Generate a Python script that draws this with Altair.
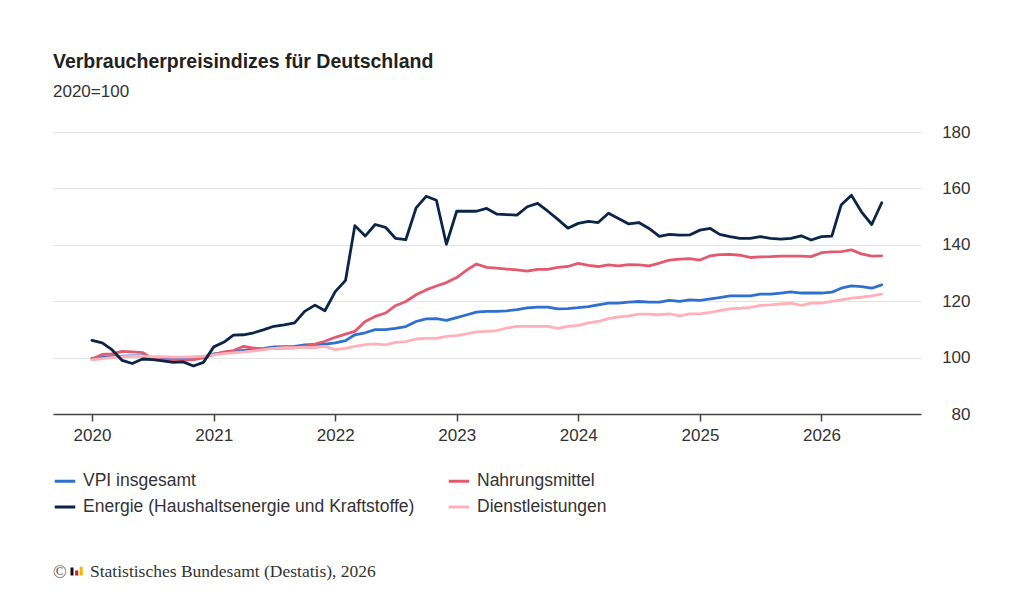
import altair as alt
import pandas as pd

# ---- data (monthly, Jan 2020 - Jul 2026, 2020=100) ----
months = [d.strftime("%Y-%m-%d") for d in pd.date_range("2020-01-01", periods=79, freq="MS")]

series_names = [
    "VPI insgesamt",
    "Nahrungsmittel",
    "Energie (Haushaltsenergie und Kraftstoffe)",
    "Dienstleistungen",
]
series_colors = ["#2f6fcf", "#e35a6f", "#0b2447", "#ffb1b9"]

vpi = [99.7, 100.1, 100.3, 100.5, 100.6, 100.6, 99.9, 99.8, 99.7, 99.8, 99.7, 100.1,
       101.3, 101.8, 102.2, 102.6, 103.0, 103.3, 103.8, 103.9, 104.0, 104.5, 104.7, 104.8,
       105.2, 106.0, 108.1, 108.8, 109.9, 109.9, 110.4, 111.0, 112.8, 113.7, 113.8, 113.2,
       114.2, 115.2, 116.1, 116.4, 116.4, 116.6, 117.0, 117.6, 117.9, 117.9, 117.3, 117.4,
       117.7, 118.1, 118.7, 119.3, 119.3, 119.7, 119.9, 119.7, 119.7, 120.3, 119.9, 120.5,
       120.3, 120.8, 121.3, 121.9, 121.9, 121.9, 122.5, 122.5, 122.9, 123.3, 122.9, 122.9,
       122.9, 123.2, 124.6, 125.4, 125.2, 124.6, 125.8]

nahrung = [99.5, 101.1, 101.3, 102.2, 102.0, 101.8, 99.5, 99.2, 99.1, 99.0, 99.3, 99.9,
           101.1, 102.0, 102.5, 104.0, 103.4, 103.1, 103.3, 103.4, 103.5, 104.0, 104.8, 105.8,
           107.2, 108.3, 109.3, 112.8, 114.6, 115.8, 118.4, 119.9, 122.3, 124.0, 125.4, 126.6,
           128.4, 131.1, 133.2, 132.0, 131.7, 131.4, 131.1, 130.7, 131.3, 131.3, 132.0, 132.3,
           133.4, 132.7, 132.3, 132.9, 132.5, 133.0, 132.9, 132.5, 133.5, 134.6, 134.9, 135.1,
           134.6, 136.1, 136.5, 136.6, 136.3, 135.5, 135.7, 135.8, 136.0, 136.0, 136.0, 135.8,
           137.2, 137.5, 137.6, 138.2, 136.8, 136.0, 136.1]

energie = [106.1, 105.2, 102.8, 99.0, 97.9, 99.5, 99.3, 98.8, 98.3, 98.5, 97.0, 98.3,
           103.8, 105.5, 108.0, 108.1, 108.8, 109.9, 111.1, 111.6, 112.3, 116.4, 118.6, 116.6,
           123.4, 127.4, 146.8, 143.1, 147.2, 146.2, 142.3, 141.8, 153.1, 157.2, 155.8, 140.2,
           151.9, 151.9, 151.9, 152.9, 150.9, 150.7, 150.5, 153.5, 154.7, 152.0, 149.0, 145.9,
           147.6, 148.3, 147.9, 151.2, 149.3, 147.4, 147.9, 145.8, 143.0, 143.7, 143.4, 143.5,
           145.2, 145.8, 143.7, 142.9, 142.3, 142.3, 142.9, 142.3, 142.0, 142.3, 143.2, 141.7,
           142.9, 143.1, 154.1, 157.6, 151.7, 147.2, 154.9]

dienst = [99.2, 99.6, 100.0, 100.3, 100.4, 100.4, 100.3, 100.3, 100.2, 100.2, 100.3, 100.5,
          101.0, 101.4, 101.7, 102.0, 102.4, 102.8, 103.3, 103.5, 103.5, 103.6, 103.5, 104.0,
          102.8, 103.3, 104.0, 104.6, 104.9, 104.5, 105.4, 105.7, 106.6, 106.8, 106.8, 107.5,
          107.8, 108.4, 109.1, 109.3, 109.6, 110.5, 111.1, 111.1, 111.1, 111.1, 110.4, 111.1,
          111.4, 112.3, 112.8, 113.8, 114.4, 114.8, 115.4, 115.4, 115.2, 115.5, 114.8, 115.5,
          115.5, 116.0, 116.7, 117.3, 117.5, 117.8, 118.5, 118.7, 119.0, 119.3, 118.5, 119.3,
          119.3, 119.9, 120.5, 121.1, 121.4, 121.9, 122.5]

years = [2020, 2021, 2022, 2023, 2024, 2025, 2026]
y_ticks = [80, 100, 120, 140, 160, 180]

title_text = "Verbraucherpreisindizes für Deutschland"
subtitle_text = "2020=100"
footer_text = "Statistisches Bundesamt (Destatis), 2026"
copyright_text = "©"
logo_colors = ["#111111", "#dd1111", "#f2b400"]

# ---- build long table (draw order: VPI, Nahrung, Dienst, Energie on top) ----
rows = []
for name, vals, order in [(series_names[0], vpi, 0), (series_names[1], nahrung, 1),
                          (series_names[3], dienst, 2), (series_names[2], energie, 3)]:
    for m, v in zip(months, vals):
        rows.append({"Monat": m, "Wert": v, "Reihe": name, "z": order})
df = pd.DataFrame(rows)

FONT = "Liberation Sans"
W, H = 868, 282

x_scale = alt.Scale(
    type="utc",
    domain=[alt.DateTime(year=2019, month=9, date=6, utc=True),
            alt.DateTime(year=2026, month=10, date=27, utc=True)],
)

lines = alt.Chart(df).mark_line(strokeWidth=2.8, strokeJoin="round", strokeCap="round").encode(
    x=alt.X("Monat:T", scale=x_scale, title=None,
            axis=alt.Axis(values=[alt.DateTime(year=y, month=1, date=1, utc=True) for y in years],
                          format="%Y", formatType="utc", grid=False,
                          domain=True, domainColor="#444444", domainWidth=1.5,
                          ticks=True, tickColor="#444444", tickWidth=1.5, tickSize=7,
                          labelFont=FONT, labelFontSize=17, labelColor="#333333",
                          labelPadding=6)),
    y=alt.Y("Wert:Q", scale=alt.Scale(domain=[80, 180], nice=False, zero=False), title=None,
            axis=alt.Axis(orient="right", values=y_ticks, grid=True, gridColor="#e3e3e3",
                          gridWidth=1, domain=False, ticks=False, labelAlign="right",
                          labelBaseline="middle",
                          labelPadding=49, labelFont=FONT, labelFontSize=17,
                          labelColor="#333333")),
    color=alt.Color("Reihe:N",
                    scale=alt.Scale(domain=series_names, range=series_colors),
                    legend=alt.Legend(orient="none", legendX=0, legendY=337, columns=2,
                                      direction="horizontal",
                                      title=None, symbolType="stroke", symbolSize=420,
                                      symbolStrokeWidth=3, labelFont=FONT, labelFontSize=17.5,
                                      labelColor="#333333", labelLimit=500, labelOffset=6,
                                      rowPadding=5, columnPadding=27)),
    detail="Reihe:N",
    order="z:Q",
)

footer_df = pd.DataFrame({"t": [footer_text]})
footer = alt.Chart(footer_df).mark_text(
    align="left", baseline="alphabetic", font="Liberation Serif", fontSize=17.5, color="#333333"
).encode(x=alt.value(37), y=alt.value(445), text="t:N")

copy_df = pd.DataFrame({"t": [copyright_text]})
copy_mark = alt.Chart(copy_df).mark_text(
    align="left", baseline="alphabetic", font="Liberation Serif", fontSize=18, color="#555555"
).encode(x=alt.value(0), y=alt.value(446), text="t:N")

logo = alt.layer(*[
    alt.Chart(pd.DataFrame({"c": [c]})).mark_rect(color=c).encode(
        x=alt.value(x0), x2=alt.value(x0 + 3), y=alt.value(y0), y2=alt.value(443.5))
    for c, x0, y0 in zip(logo_colors, [17.5, 22.2, 26.7], [435.5, 438.5, 434.8])
])

chart = alt.layer(lines, footer, copy_mark, logo).properties(
    width=W, height=H,
    background="white",
    autosize=alt.AutoSizeParams(type="none"),
    padding={"left": 45, "top": 124, "right": 80, "bottom": 170},
    title=alt.TitleParams(
        text=title_text, subtitle=subtitle_text, anchor="start", frame="group",
        font=FONT, fontSize=19.5, fontWeight="bold", color="#222222",
        subtitleFont=FONT, subtitleFontSize=17, subtitleColor="#333333",
        subtitlePadding=12, offset=22,
    ),
).configure_view(stroke="transparent", strokeWidth=0)

chart.save("out.html", embed_options={"renderer": "svg", "actions": False})
